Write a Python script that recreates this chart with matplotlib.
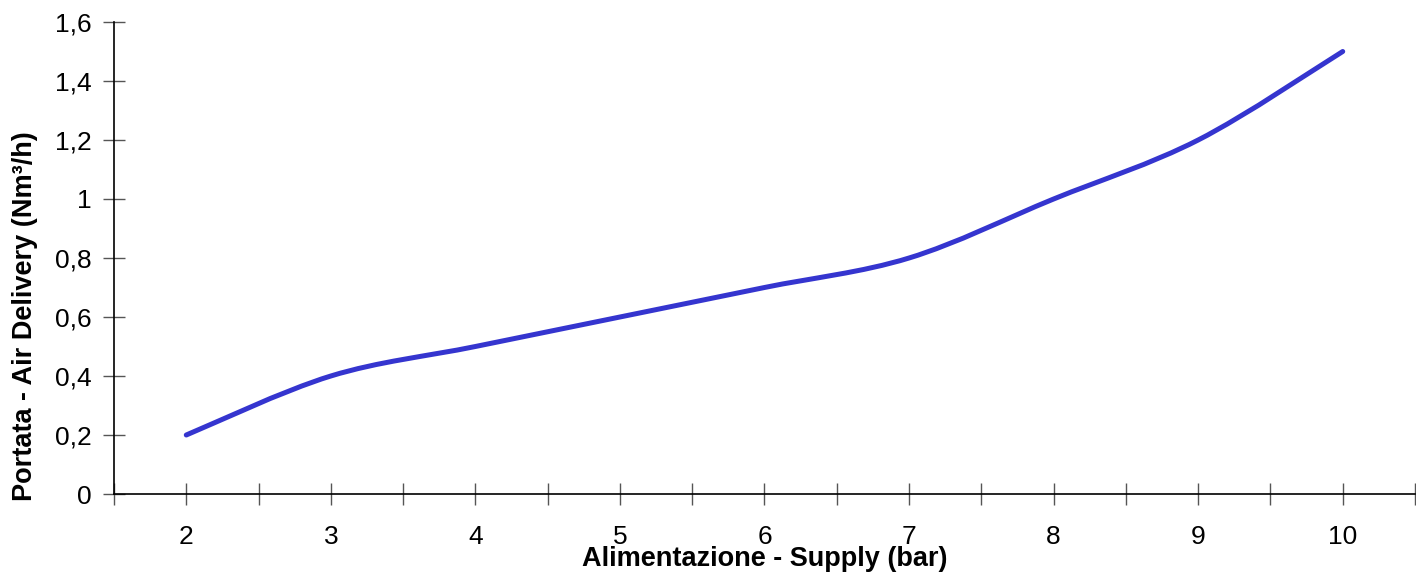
import matplotlib
matplotlib.use("Agg")
import matplotlib.pyplot as plt
from matplotlib.path import Path
from matplotlib.patches import PathPatch
import numpy as np

plt.rcParams['font.family'] = ['Liberation Sans', 'DejaVu Sans']

supply = [2, 3, 4, 5, 6, 7, 8, 9, 10]
delivery = [0.2, 0.4, 0.5, 0.6, 0.7, 0.8, 1.0, 1.2, 1.5]
y_ticks = [0, 0.2, 0.4, 0.6, 0.8, 1.0, 1.2, 1.4, 1.6]
y_tick_labels = ["0", "0,2", "0,4", "0,6", "0,8", "1", "1,2", "1,4", "1,6"]
x_tick_labels = ["2", "3", "4", "5", "6", "7", "8", "9", "10"]
x_label = "Alimentazione - Supply (bar)"
y_label = "Portata - Air Delivery (Nm³/h)"

W, H = 1416, 573
fig = plt.figure(figsize=(W / 100, H / 100), dpi=100)
ax = fig.add_axes([114 / W, (H - 494) / H, (1415 - 114) / W, (494 - 22) / H])

# Excel-style smoothed line: cubic Bezier segments (Catmull-Rom control points)
xs = np.array(supply, dtype=float)
ys = np.array(delivery, dtype=float)
n = len(xs)
verts = [(xs[0], ys[0])]
codes = [Path.MOVETO]
for i in range(n - 1):
    p0 = np.array([xs[max(i - 1, 0)], ys[max(i - 1, 0)]])
    p1 = np.array([xs[i], ys[i]])
    p2 = np.array([xs[i + 1], ys[i + 1]])
    p3 = np.array([xs[min(i + 2, n - 1)], ys[min(i + 2, n - 1)]])
    c1 = p1 + (p2 - p0) / 6.0
    c2 = p2 - (p3 - p1) / 6.0
    verts += [tuple(c1), tuple(c2), tuple(p2)]
    codes += [Path.CURVE4, Path.CURVE4, Path.CURVE4]
path = Path(verts, codes)
ax.add_patch(PathPatch(path, facecolor='none', edgecolor='#3535CF',
                       linewidth=3.6, capstyle='round', joinstyle='round'))

ax.set_xlim(1.5, 10.5)
ax.set_ylim(0, 1.6)

ax.set_xticks(supply)
ax.set_xticklabels(x_tick_labels)
ax.set_xticks(np.arange(1.5, 10.51, 1.0), minor=True)
ax.set_yticks(y_ticks)
ax.set_yticklabels(y_tick_labels)

for s in ['top', 'right']:
    ax.spines[s].set_visible(False)
for s in ['left', 'bottom']:
    ax.spines[s].set_color('black')
    ax.spines[s].set_linewidth(1.2)

ax.tick_params(axis='x', which='both', direction='inout', length=16, width=1.0,
               color='#555555', labelsize=19, pad=14)
ax.tick_params(axis='y', which='both', direction='inout', length=16, width=1.0,
               color='#555555', labelsize=19, pad=8)

ax.set_xlabel(x_label, fontsize=19.5, fontweight='bold', labelpad=-2)
ax.set_ylabel(y_label, fontsize=19.5, fontweight='bold')
ax.yaxis.set_label_coords((38 - 114) / 1301, (494 - 316) / 472)

fig.savefig("out.png", dpi=100)
